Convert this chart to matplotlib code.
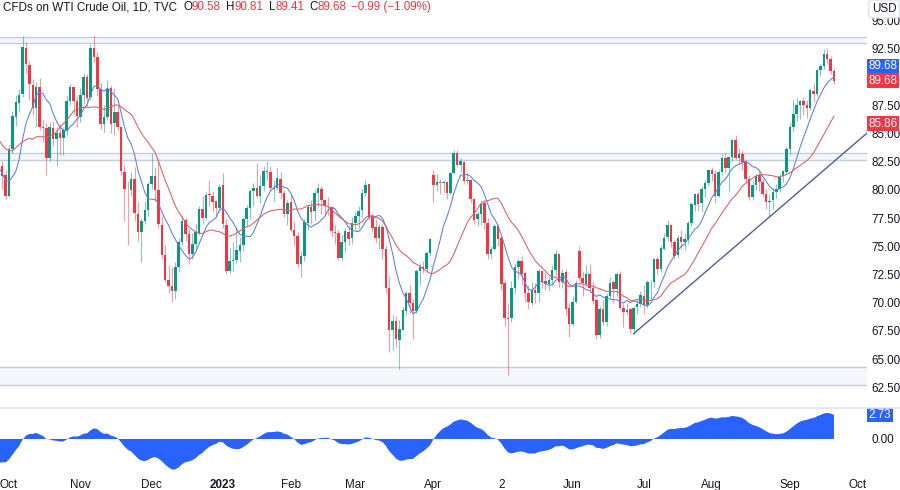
import matplotlib
matplotlib.use("Agg")
import matplotlib.pyplot as plt
from matplotlib.lines import Line2D
import numpy as np
import pandas as pd

plt.rcParams['font.family'] = ['Liberation Sans', 'DejaVu Sans']

# closes before the first visible candle (Aug 1 - Sep 27 2022), only used to warm up the indicators
warmup_closes = [93.89, 94.42, 90.66, 88.54, 89.01, 90.76, 90.50, 91.93, 94.34, 92.09, 89.41, 86.53,
                 88.11, 90.50, 90.77, 90.23, 93.74, 94.89, 92.52, 93.06, 97.01, 91.64, 89.55,
                 86.61, 86.87, 86.88, 81.94, 83.54, 86.79, 87.78, 87.31, 88.48, 85.10, 85.11, 85.73,
                 83.94, 82.94, 83.49, 78.74, 76.71, 78.50]

# daily candles Sep 28 2022 - Sep 21 2023, one line per month
opens = [78.6, 82.1, 81.3,
         79.5, 83.6, 86.5, 87.7, 88.5, 92.6, 91.1, 89.3, 87.3, 89.1, 85.6, 85.5, 82.8, 85.5, 84.5, 85.0, 84.6, 85.3, 87.9, 89.1, 87.9,
         86.5, 88.4, 90.0, 88.2, 92.6, 91.8, 88.9, 85.8, 86.5, 89.0, 85.9, 86.9, 85.6, 81.6, 80.1, 80.0, 81.0, 77.9, 76.3, 77.2, 78.2,
         80.5, 81.2, 80.0, 76.9, 74.2, 72.0, 71.5, 71.0, 73.2, 75.4, 77.3, 76.1, 74.3, 75.2, 76.2, 78.3, 77.5, 79.6, 79.5, 79.0, 78.4,
         80.4, 76.9, 72.8, 73.7, 73.8, 74.6, 75.1, 77.4, 78.4, 79.9, 80.2, 79.5, 80.3, 81.6, 81.6, 80.1, 80.2, 81.0, 79.7, 77.9,
         78.9, 76.4, 75.9, 73.4, 74.1, 77.1, 78.5, 78.1, 79.7, 80.1, 79.1, 78.6, 78.5, 76.3, 76.2, 74.0, 75.4, 76.3, 75.7,
         77.1, 77.7, 78.2, 79.7, 80.5, 77.6, 76.7, 75.7, 76.7, 74.8, 71.3, 67.6, 68.4, 66.7, 67.6, 69.3, 70.9, 70.0, 69.3, 72.8, 73.2, 73.0, 74.4,
         81.3, 80.4, 80.7, 80.6, 80.7, 79.7, 81.5, 83.3, 82.2, 82.5, 80.8, 80.9, 79.2, 77.4, 77.9, 78.8, 77.1, 74.3, 74.8,
         76.8, 75.7, 71.7, 68.6, 68.6, 71.3, 73.2, 73.7, 72.6, 70.9, 70.0, 71.1, 70.9, 72.8, 71.9, 71.7, 72.0, 72.9, 74.3, 71.8, 72.7, 69.5,
         68.1, 70.1, 74.6, 72.2, 71.7, 72.5, 71.3, 70.2, 67.1, 69.4, 68.3, 70.6, 71.8, 71.2, 72.5, 69.5, 69.2, 69.4, 67.7, 69.6, 69.9,
         70.6, 69.8, 71.8, 71.8, 73.9, 73.0, 74.8, 75.8, 76.9, 75.4, 74.2, 75.8, 75.4, 75.6, 77.1, 78.7, 79.6, 78.8, 80.1, 80.6,
         81.8, 81.4, 79.5, 81.6, 82.8, 81.9, 82.9, 84.4, 82.8, 83.2, 82.5, 81.0, 79.4, 80.4, 81.3, 80.7, 79.6, 78.9, 79.1, 79.8, 80.1, 81.2, 81.6,
         83.6, 85.6, 86.7, 87.5, 87.9, 87.5, 87.3, 88.8, 88.5, 90.6, 91.0, 92.05, 91.6, 90.58]
highs = [82.5, 82.6, 81.8,
         84.0, 87.0, 88.4, 88.9, 93.6, 93.1, 91.4, 89.8, 89.6, 89.9, 86.2, 85.9, 86.0, 86.1, 85.6, 85.8, 85.5, 88.4, 89.4, 89.1, 88.3,
         89.0, 90.4, 90.3, 92.9, 93.7, 92.2, 89.5, 87.5, 89.7, 89.3, 89.0, 87.4, 85.7, 82.2, 80.8, 81.6, 82.0, 78.9, 77.5, 79.0, 80.7,
         83.3, 82.0, 82.7, 77.7, 75.1, 73.3, 73.2, 73.6, 75.7, 77.8, 77.5, 76.5, 76.2, 77.0, 78.6, 79.5, 79.8, 80.9, 79.9, 79.1, 80.5,
         81.5, 77.4, 74.9, 75.4, 76.7, 75.8, 77.6, 78.7, 80.1, 80.6, 82.4, 81.3, 82.1, 82.6, 82.1, 80.9, 81.9, 81.6, 80.0, 79.1,
         79.6, 77.2, 76.3, 74.6, 77.4, 78.7, 79.1, 80.0, 80.6, 80.3, 79.2, 79.4, 78.6, 76.9, 76.4, 76.0, 76.6, 76.9, 77.6,
         78.0, 78.6, 80.1, 80.9, 80.5, 77.9, 77.4, 77.0, 77.0, 75.1, 72.4, 68.9, 68.8, 68.5, 69.6, 71.0, 71.6, 70.3, 73.0, 73.5, 73.7, 74.6, 75.7,
         81.8, 81.4, 81.0, 80.9, 80.8, 81.6, 83.5, 83.5, 82.8, 82.6, 81.6, 81.0, 79.3, 78.1, 79.1, 79.0, 77.5, 75.0, 77.0,
         77.0, 75.9, 72.0, 70.0, 71.9, 73.5, 73.9, 74.1, 72.7, 71.6, 71.8, 71.7, 73.0, 72.9, 72.7, 72.4, 73.3, 74.7, 74.3, 73.0, 73.0, 70.0,
         70.6, 72.0, 75.0, 72.8, 73.3, 73.4, 71.8, 70.4, 69.7, 70.2, 70.9, 72.3, 72.0, 72.7, 72.8, 69.9, 70.0, 69.5, 69.7, 70.3, 71.0,
         71.6, 72.0, 72.0, 74.0, 74.1, 75.1, 76.2, 77.3, 77.0, 75.6, 76.0, 76.4, 76.2, 77.2, 78.9, 79.7, 79.9, 80.3, 80.9, 81.8,
         82.0, 81.8, 81.8, 83.2, 83.3, 83.0, 84.5, 84.9, 83.7, 83.5, 82.6, 81.3, 80.9, 81.4, 81.8, 81.0, 80.1, 79.6, 80.2, 80.5, 81.4, 81.8, 83.9,
         86.0, 88.0, 88.1, 88.0, 88.2, 88.0, 89.0, 89.5, 90.8, 91.2, 92.5, 92.6, 91.9, 90.81]
lows = [78.0, 80.1, 79.2,
        79.4, 83.3, 85.7, 87.0, 88.2, 90.4, 88.0, 86.6, 85.6, 85.3, 84.2, 81.3, 82.6, 83.9, 82.1, 83.1, 83.1, 84.9, 87.5, 86.7, 85.6,
        86.0, 87.6, 87.4, 88.0, 91.3, 88.3, 85.4, 85.1, 86.2, 85.0, 84.9, 85.3, 81.3, 77.2, 75.1, 79.5, 77.2, 75.5, 73.6, 77.0, 77.7,
        80.1, 79.0, 76.6, 73.9, 71.8, 70.9, 70.1, 70.3, 72.7, 75.1, 75.5, 73.4, 73.9, 74.7, 76.0, 77.0, 77.3, 78.6, 78.0, 77.6, 78.0,
        76.6, 72.5, 72.5, 72.8, 73.5, 73.6, 74.6, 76.8, 77.4, 78.6, 79.3, 78.8, 79.9, 80.9, 79.9, 79.0, 80.0, 79.3, 77.6, 76.9,
        76.3, 75.1, 73.1, 72.3, 73.7, 76.4, 77.0, 77.3, 78.5, 77.9, 77.8, 77.8, 75.8, 75.2, 73.8, 73.8, 74.5, 75.1, 75.2,
        76.5, 76.6, 77.6, 79.5, 77.3, 76.3, 75.3, 74.8, 73.9, 70.9, 65.6, 65.8, 66.1, 64.1, 67.6, 68.9, 69.0, 66.8, 69.1, 71.6, 72.6, 72.7, 74.1,
        78.9, 79.9, 79.6, 79.8, 79.2, 79.6, 81.4, 82.0, 81.6, 80.5, 80.5, 78.8, 77.0, 76.8, 76.9, 76.5, 73.9, 73.9, 74.7,
        75.0, 71.1, 67.9, 63.6, 68.3, 70.8, 72.1, 71.6, 70.1, 69.4, 69.8, 70.0, 70.1, 71.3, 71.1, 71.0, 71.6, 72.4, 71.4, 71.3, 68.9, 67.0,
        67.9, 70.0, 71.9, 70.6, 71.4, 70.9, 69.9, 66.8, 66.9, 68.0, 67.9, 70.4, 70.0, 70.6, 69.4, 67.8, 68.9, 67.3, 67.25, 69.0, 69.6,
        69.0, 69.5, 70.2, 71.4, 72.5, 72.7, 74.7, 75.5, 74.9, 73.9, 74.0, 74.8, 74.7, 75.2, 76.8, 78.1, 78.1, 78.0, 79.4, 80.3,
        80.8, 78.8, 79.4, 81.3, 81.6, 79.9, 82.6, 82.7, 82.3, 81.8, 80.6, 79.1, 79.1, 80.0, 79.9, 79.4, 78.3, 77.6, 78.3, 79.3, 79.8, 80.7, 81.4,
        83.1, 85.1, 86.1, 86.3, 86.6, 86.4, 87.1, 87.8, 88.3, 90.1, 90.7, 91.2, 90.3, 89.41]
closes = [82.15, 81.23, 79.49,
          83.63, 86.52, 87.76, 88.45, 92.64, 91.13, 89.35, 87.27, 89.11, 85.61, 85.46, 82.82, 85.55, 84.51, 85.05, 84.58, 85.32, 87.91, 89.08, 87.90, 86.53,
          88.37, 90.00, 88.17, 92.61, 91.79, 88.91, 85.83, 86.47, 88.96, 85.87, 86.92, 85.59, 81.64, 80.08, 80.04, 80.95, 77.94, 76.28, 77.24, 78.20, 80.55,
          81.22, 79.98, 76.93, 74.25, 72.01, 71.46, 71.02, 73.17, 75.39, 77.28, 76.11, 74.29, 75.19, 76.23, 78.29, 77.49, 79.56, 79.53, 78.96, 78.40, 80.26,
          76.93, 72.84, 73.67, 73.77, 74.63, 75.12, 77.41, 78.39, 79.86, 80.18, 79.48, 80.33, 81.64, 81.62, 80.13, 80.15, 81.01, 79.68, 77.90, 78.87,
          76.41, 75.88, 73.39, 74.11, 77.14, 78.47, 78.06, 79.72, 80.14, 79.06, 78.59, 78.49, 76.34, 76.16, 73.95, 75.39, 76.32, 75.68, 77.05,
          77.69, 78.16, 79.68, 80.46, 77.58, 76.66, 75.72, 76.68, 74.80, 71.33, 67.61, 68.35, 66.74, 67.64, 69.33, 70.90, 69.96, 69.26, 72.81, 73.20, 72.97, 74.37, 75.67,
          80.42, 80.71, 80.61, 80.70, 79.74, 81.53, 83.26, 82.16, 82.52, 80.83, 80.86, 79.16, 77.37, 77.87, 78.76, 77.07, 74.30, 74.76, 76.78,
          75.66, 71.66, 68.60, 68.56, 71.34, 73.16, 73.71, 72.56, 70.87, 70.04, 71.11, 70.86, 72.83, 71.86, 71.69, 71.99, 72.91, 74.34, 71.83, 72.67, 69.46, 68.09,
          70.10, 71.74, 72.15, 71.74, 72.53, 71.29, 70.17, 67.12, 69.42, 68.27, 70.62, 71.78, 71.19, 72.53, 69.51, 69.16, 69.37, 67.70, 69.56, 69.86, 70.64,
          69.79, 71.79, 71.80, 73.86, 72.99, 74.83, 75.75, 76.89, 75.42, 74.15, 75.75, 75.35, 75.63, 77.07, 78.74, 79.63, 78.78, 80.09, 80.58, 81.80,
          81.37, 79.49, 81.55, 82.82, 81.94, 82.92, 84.40, 82.82, 83.19, 82.51, 80.99, 79.38, 80.39, 81.25, 80.72, 79.64, 78.89, 79.05, 79.83, 80.10, 81.16, 81.63, 83.63,
          85.55, 86.69, 87.54, 87.87, 87.51, 87.29, 88.84, 88.52, 90.60, 91.00, 92.05, 91.60, 90.58, 89.68]

holidays = ["2022-09-05", "2022-11-24", "2022-12-26", "2023-01-02", "2023-01-16", "2023-02-20",
            "2023-04-07", "2023-05-29", "2023-06-19", "2023-07-04", "2023-09-04"]

# support / resistance zones (low, high)
zone_lows = [93.00, 82.69, 62.70]
zone_highs = [93.53, 83.28, 64.27]

# rising trendline anchors
trend_dates = ["2023-06-28", "2023-08-24"]
trend_prices = [67.25, 77.6]

tick_dates = ["2022-10-03", "2022-11-01", "2022-12-01", "2023-01-03", "2023-02-01", "2023-03-01",
              "2023-04-03", "2023-05-02", "2023-06-01", "2023-07-03", "2023-08-01", "2023-09-01", "2023-10-02"]
tick_labels = ["Oct", "Nov", "Dec", "2023", "Feb", "Mar", "Apr", "2", "Jun", "Jul", "Aug", "Sep", "Oct"]

# price scale: 90.00 sits under the last-price labels, so it is left blank
price_ticks = [62.5, 65.0, 67.5, 70.0, 72.5, 75.0, 77.5, 80.0, 82.5, 85.0, 87.5, 90.0, 92.5, 95.0]
hidden_ticks = [90.0]

last_close = 89.68
slow_ma_label = 85.86
osc_label = 2.73

UP = '#089981'
DOWN = '#f23645'
BLUE = '#2962ff'
TXT = '#131722'
W, H = 900, 490

n = len(closes)
assert len(opens) == n and len(highs) == n and len(lows) == n

days = pd.bdate_range("2022-08-01", "2023-10-06", freq="C", holidays=holidays)
pos = {d.strftime("%Y-%m-%d"): i for i, d in enumerate(days)}
nw = len(warmup_closes)
x = np.arange(nw, nw + n)
assert days[nw].strftime("%Y-%m-%d") == "2022-09-28"

allc = pd.Series(warmup_closes + closes)
ma_fast = allc.rolling(9).mean()
ma_slow = allc.rolling(20).mean()
macd = allc.ewm(span=12, adjust=False).mean() - allc.ewm(span=26, adjust=False).mean()
xa = np.arange(len(allc))

fig = plt.figure(figsize=(9, 4.9), dpi=100)
ax = fig.add_axes([0, 1 - 405 / H, 867 / W, 405 / H])
ax2 = fig.add_axes([0, 1 - 475 / H, 867 / W, 66 / H])

i0 = pos["2022-10-03"]
step = 3.395
xlim = (i0 - 9 / step, i0 + 858 / step)

# zones
for lo, hi in zip(zone_lows, zone_highs):
    ax.axhspan(lo, hi, color='#f4f6fb', lw=0, zorder=0)
    ax.axhline(lo, color='#c3cedc', lw=1.0, zorder=1)
    ax.axhline(hi, color='#c3cedc', lw=1.0, zorder=1)

# candles
o = np.array(opens); h = np.array(highs); l = np.array(lows); c = np.array(closes)
cols = np.where(c >= o, UP, DOWN)
ax.vlines(x, l, h, colors=cols, lw=0.8, alpha=0.5, zorder=2)
ax.bar(x, np.maximum(np.abs(c - o), 0.06), bottom=np.minimum(o, c), width=0.74,
       color=cols, lw=0, zorder=3)

ax.plot(xa, ma_fast, color='#5a7fdc', lw=0.75, zorder=4)
ax.plot(xa, ma_slow, color='#dc5d66', lw=0.75, zorder=4)

# trendline, extended to the right edge
tx = [pos[d] for d in trend_dates]
slope = (trend_prices[1] - trend_prices[0]) / (tx[1] - tx[0])
ax.plot([tx[0], xlim[1]], [trend_prices[0], trend_prices[0] + slope * (xlim[1] - tx[0])],
        color='#4d6196', lw=1.0, zorder=4)

ax.set_xlim(*xlim)
ax.set_ylim(60.93, 96.83)
ax.set_xticks([])
ax.yaxis.tick_right()
ax.set_yticks(price_ticks)
ax.set_yticklabels(["" if v in hidden_ticks else f"{v:.2f}" for v in price_ticks])
ax.tick_params(axis='y', length=0, pad=3, labelsize=8.4, labelcolor=TXT)
for s in ax.spines.values():
    s.set_visible(False)

# oscillator pane
ax2.fill_between(xa, 0, macd, color=BLUE, lw=0)
ax2.set_xlim(*xlim)
ax2.set_ylim(-4.1, 3.41)
ax2.yaxis.tick_right()
ax2.set_yticks([0])
ax2.set_yticklabels(["0.00"])
ax2.set_xticks([pos[d] for d in tick_dates])
ax2.set_xticklabels(tick_labels)
ax2.tick_params(length=0, labelsize=8.4, labelcolor=TXT)
ax2.tick_params(axis='x', pad=3)
ax2.tick_params(axis='y', pad=3)
for t in ax2.get_xticklabels():
    if t.get_text() == "2023":
        t.set_fontweight('bold')
for s in ax2.spines.values():
    s.set_visible(False)

fig.add_artist(Line2D([0, 1], [1 - 408 / H] * 2, color='#e0e3eb', lw=1.2))

# price labels on the scale
yt = ax.get_yaxis_transform()
lab = dict(ha='left', va='center', fontsize=8.4, color='white')
ax.text(1.002, last_close + 1.3, f"{last_close:.2f}", transform=yt, **lab,
        bbox=dict(boxstyle='square,pad=0.12', fc=BLUE, ec='none'))
ax.text(1.002, last_close, f"{last_close:.2f}", transform=yt, **lab,
        bbox=dict(boxstyle='square,pad=0.12', fc=DOWN, ec='none'))
ax.text(1.002, slow_ma_label, f"{slow_ma_label:.2f}", transform=yt, **lab,
        bbox=dict(boxstyle='square,pad=0.12', fc=DOWN, ec='none'))
ax2.text(1.002, osc_label, f"{osc_label:.2f}", transform=ax2.get_yaxis_transform(), **lab,
         bbox=dict(boxstyle='square,pad=0.12', fc=BLUE, ec='none'))

fig.text(884 / W, 1 - 9 / H, "USD", ha='center', va='center', fontsize=8.4, color=TXT,
         bbox=dict(boxstyle='round,pad=0.25', fc='white', ec='#e0e3eb'))

# header line
r = fig.canvas.get_renderer()
parts = [("CFDs on WTI Crude Oil, 1D, TVC", TXT, 0), ("O", TXT, 6), ("90.58", DOWN, 0),
         ("H", TXT, 5), ("90.81", DOWN, 0), ("L", TXT, 5), ("89.41", DOWN, 0),
         ("C", TXT, 5), ("89.68", DOWN, 0), ("\u22120.99 (\u22121.09%)", DOWN, 5)]
px = 3
for s, col, gap in parts:
    px += gap
    t = fig.text(px / W, 1 - 7 / H, s, color=col, fontsize=8.4, ha='left', va='center')
    px += t.get_window_extent(r).width

fig.savefig("out.png", dpi=100)
